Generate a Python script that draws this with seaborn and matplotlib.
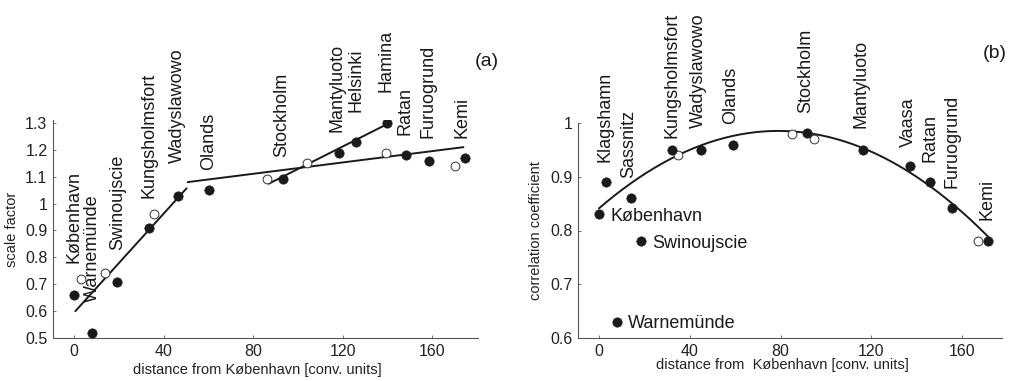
import numpy as np
import matplotlib
matplotlib.use("Agg")
import matplotlib.pyplot as plt
import seaborn as sns

# ---- panel (a): scale factor ----
a_filled_names = ["København", "Warnemünde", "Swinoujscie", "Kungsholmsfort", "Wadyslawowo",
                  "Olands", "Stockholm", "Mantyluoto", "Helsinki", "Hamina", "Ratan",
                  "Furuogrund", "Kemi"]
a_filled_x = [0, 8, 19.4, 33.5, 46.5, 60.5, 93.4, 118.3, 126, 140, 148.4, 158.5, 174.5]
a_filled_y = [0.66, 0.52, 0.71, 0.91, 1.03, 1.05, 1.09, 1.19, 1.23, 1.30, 1.18, 1.16, 1.17]
a_open_x = [3, 14, 35.6, 86, 104, 139.5, 170]
a_open_y = [0.72, 0.74, 0.96, 1.09, 1.15, 1.19, 1.14]

# fitted lines (endpoints)
a_line1_x = [0.6, 50.3]
a_line1_y = [0.60, 1.057]
a_line2_x = [50.8, 174]
a_line2_y = [1.08, 1.21]
a_line3_x = [87, 140]
a_line3_y = [1.074, 1.296]

# ---- panel (b): correlation coefficient ----
b_filled_names = ["København", "Klagshamn", "Sassnitz", "Swinoujscie", "Warnemünde",
                  "Kungsholmsfort", "Wadyslawowo", "Olands", "Stockholm", "Mantyluoto",
                  "Vaasa", "Ratan", "Furuogrund", "Kemi"]
b_filled_x = [0, 3.1, 14, 18.6, 7.8, 32.2, 45, 59, 91.8, 116.3, 137, 145.8, 155.4, 171.5]
b_filled_y = [0.83, 0.89, 0.86, 0.78, 0.63, 0.95, 0.95, 0.96, 0.981, 0.95, 0.92, 0.89, 0.841, 0.78]
b_open_x = [34.7, 84.9, 94.7, 167]
b_open_y = [0.94, 0.98, 0.971, 0.78]

# points
b_curve_x = [0, 40, 78, 120, 160, 172]
b_curve_y = [0.844, 0.944, 0.987, 0.95, 0.833, 0.785]

# label anchors: (name, x, y) -> vertical labels anchored at bottom centre
a_labels = [("København", 0, 0.779), ("Warnemünde", 8, 0.635), ("Swinoujscie", 19.4, 0.827),
            ("Kungsholmsfort", 33.5, 1.021), ("Wadyslawowo", 46, 1.151), ("Olands", 60, 1.125),
            ("Stockholm", 93, 1.173), ("Mantyluoto", 117.5, 1.267), ("Helsinki", 126, 1.341),
            ("Hamina", 139.5, 1.415), ("Ratan", 148, 1.255), ("Furuogrund", 158, 1.244),
            ("Kemi", 173.5, 1.244)]
b_labels_v = [("Klagshamn", 2.6, 0.928), ("Sassnitz", 12.9, 0.898), ("Kungsholmsfort", 32, 0.972),
              ("Wadyslawowo", 44, 0.991), ("Olands", 58, 0.998), ("Stockholm", 91, 1.019),
              ("Mantyluoto", 115.6, 0.991), ("Vaasa", 136.3, 0.955), ("Ratan", 145.8, 0.927),
              ("Furuogrund", 155.4, 0.879), ("Kemi", 171, 0.820)]
b_labels_h = [("København", 4.9, 0.826), ("Swinoujscie", 23.5, 0.776), ("Warnemünde", 12.9, 0.627)]

sns.set_theme(style="white")
plt.rcParams['font.family'] = ['Liberation Sans', 'DejaVu Sans']

fig = plt.figure(figsize=(10.14, 3.81), dpi=100)
ax_a = fig.add_axes([53 / 1014, 43 / 381, 425 / 1014, 218 / 381])
ax_b = fig.add_axes([578 / 1014, 43 / 381, 424 / 1014, 215 / 381])

ink = "#1a1a1a"
label_size = 13


def style_axes(ax):
    sns.despine(ax=ax)
    for side in ("left", "bottom"):
        ax.spines[side].set_color("#555555")
        ax.spines[side].set_linewidth(0.8)
    ax.tick_params(axis="both", direction="in", length=2, width=0.6, color="#555555",
                   labelsize=11.5, labelcolor="#222222", pad=4, left=True, bottom=True)
    ax.set_facecolor("white")


# panel (a)
sns.scatterplot(x=a_filled_x, y=a_filled_y, ax=ax_a, s=45, color=ink, edgecolor=ink,
                linewidth=0.5, zorder=3)
sns.scatterplot(x=a_open_x, y=a_open_y, ax=ax_a, s=40, facecolor="white", edgecolor="#333333",
                linewidth=0.7, zorder=3)
for lx, ly in [(a_line1_x, a_line1_y), (a_line2_x, a_line2_y), (a_line3_x, a_line3_y)]:
    ax_a.plot(lx, ly, color=ink, lw=1.4, zorder=2)
ax_a.set_xlim(-9.4, 180.5)
ax_a.set_ylim(0.5, 1.311)
ax_a.set_xticks([0, 40, 80, 120, 160])
ax_a.set_yticks([0.5, 0.6, 0.7, 0.8, 0.9, 1.0, 1.1, 1.2, 1.3])
ax_a.set_yticklabels(["0.5", "0.6", "0.7", "0.8", "0.9", "1", "1.1", "1.2", "1.3"])
style_axes(ax_a)
ax_a.set_xlabel("distance from København [conv. units]", fontsize=10.5, color="#222222")
ax_a.set_ylabel("scale factor", fontsize=10.5, color="#222222")
ax_a.xaxis.set_label_coords(0.48, -0.115)
ax_a.yaxis.set_label_coords(-0.08, 0.5)
for name, x, y in a_labels:
    ax_a.text(x, y, name, rotation=90, ha="center", va="bottom", fontsize=label_size,
              color=ink, clip_on=False)

# panel (b)
xs = np.linspace(0, 172, 200)
coef = np.polyfit(b_curve_x, b_curve_y, 2)
sns.lineplot(x=xs, y=np.polyval(coef, xs), ax=ax_b, color=ink, lw=1.4, zorder=2)
sns.scatterplot(x=b_open_x, y=b_open_y, ax=ax_b, s=40, facecolor="white", edgecolor="#333333",
                linewidth=0.7, zorder=3)
sns.scatterplot(x=b_filled_x, y=b_filled_y, ax=ax_b, s=45, color=ink, edgecolor=ink,
                linewidth=0.5, zorder=4)
ax_b.set_xlim(-9.25, 177.5)
ax_b.set_ylim(0.6, 1.0)
ax_b.set_xticks([0, 40, 80, 120, 160])
ax_b.set_yticks([0.6, 0.7, 0.8, 0.9, 1.0])
ax_b.set_yticklabels(["0.6", "0.7", "0.8", "0.9", "1"])
style_axes(ax_b)
ax_b.set_xlabel("distance from  København [conv. units]", fontsize=10.5, color="#222222")
ax_b.set_ylabel("correlation coefficient", fontsize=10.5, color="#222222")
ax_b.xaxis.set_label_coords(0.482, -0.093)
ax_b.yaxis.set_label_coords(-0.083, 0.5)
for name, x, y in b_labels_v:
    ax_b.text(x, y, name, rotation=90, ha="center", va="bottom", fontsize=label_size,
              color=ink, clip_on=False)
for name, x, y in b_labels_h:
    ax_b.text(x, y, name, ha="left", va="center", fontsize=label_size, color=ink, clip_on=False)

fig.text(487 / 1014, 1 - 62 / 381, "(a)", ha="center", va="center", fontsize=14, color=ink)
fig.text(995 / 1014, 1 - 53 / 381, "(b)", ha="center", va="center", fontsize=14, color=ink)

fig.savefig("out.png", dpi=100, facecolor="white")
